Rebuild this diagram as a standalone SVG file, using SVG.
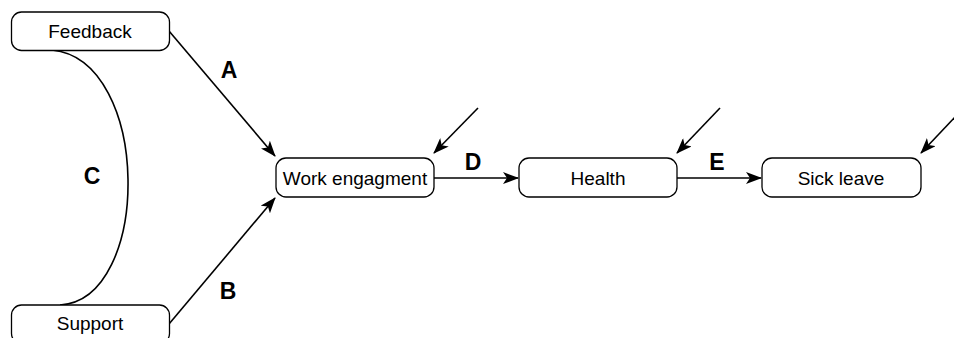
<svg xmlns="http://www.w3.org/2000/svg" width="954" height="338" viewBox="0 0 954 338">
  <style>
    .box { fill: #ffffff; stroke: #000000; stroke-width: 1.3; }
    .txt { font-family: "Liberation Sans", Arial, sans-serif; font-size: 19px; fill: #000000; text-anchor: middle; dominant-baseline: central; }
    .lbl { font-family: "Liberation Sans", Arial, sans-serif; font-size: 23px; font-weight: bold; fill: #000000; text-anchor: middle; dominant-baseline: central; }
    .edge { fill: none; stroke: #000000; stroke-width: 1.6; }
  </style>
  <defs>
    <marker id="arrow" viewBox="0 0 16 12" refX="15" refY="6" markerWidth="16" markerHeight="12" markerUnits="userSpaceOnUse" orient="auto">
      <path d="M0,0 L16,6 L0,12 L4,6 Z" fill="#000000"/>
    </marker>
  </defs>

  <rect width="954" height="338" fill="#ffffff"/>

  <g id="connectors">
    <path class="edge" d="M52,50 C152,60 152,300 60,305"/>
    <line class="edge" x1="169" y1="31" x2="275" y2="156" marker-end="url(#arrow)"/>
    <line class="edge" x1="169" y1="324" x2="275" y2="198" marker-end="url(#arrow)"/>
    <line class="edge" x1="434" y1="178" x2="518" y2="178" marker-end="url(#arrow)"/>
    <line class="edge" x1="677" y1="178" x2="761" y2="178" marker-end="url(#arrow)"/>
    <line class="edge" x1="478" y1="108" x2="434" y2="153" marker-end="url(#arrow)"/>
    <line class="edge" x1="720" y1="108" x2="677" y2="153" marker-end="url(#arrow)"/>
    <line class="edge" x1="956" y1="116" x2="921" y2="153" marker-end="url(#arrow)"/>
    <text class="lbl" x="229" y="70">A</text>
    <text class="lbl" x="228" y="291">B</text>
    <text class="lbl" x="92" y="176">C</text>
    <text class="lbl" x="473" y="162">D</text>
    <text class="lbl" x="717" y="162">E</text>
  </g>

  <g id="feedback">
    <rect class="box" x="11.5" y="12" width="158" height="38.5" rx="10"/>
    <text class="txt" x="90" y="31">Feedback</text>
  </g>
  <g id="support">
    <rect class="box" x="11.5" y="305" width="158" height="38.5" rx="10"/>
    <text class="txt" x="90" y="323">Support</text>
  </g>
  <g id="work-engagement">
    <rect class="box" x="276" y="158" width="158" height="39" rx="10"/>
    <text class="txt" x="355" y="178">Work engagment</text>
  </g>
  <g id="health">
    <rect class="box" x="519" y="158" width="158" height="39" rx="10"/>
    <text class="txt" x="598" y="178">Health</text>
  </g>
  <g id="sick-leave">
    <rect class="box" x="762" y="158" width="159" height="39" rx="10"/>
    <text class="txt" x="841" y="178">Sick leave</text>
  </g>
</svg>
